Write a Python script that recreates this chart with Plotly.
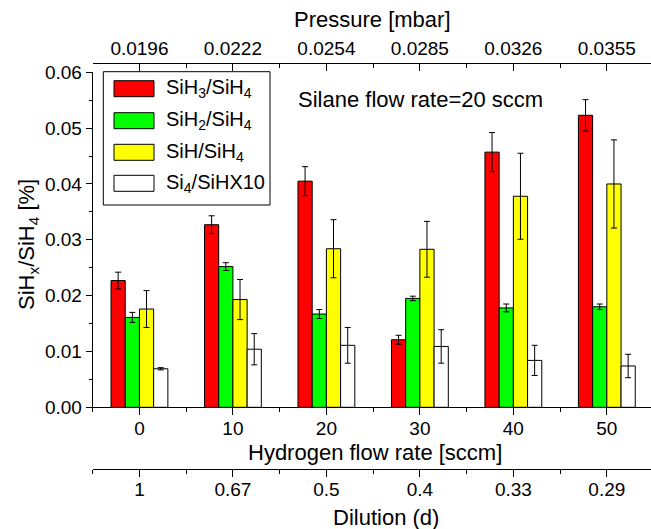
import plotly.graph_objects as go

# ---- data ----
hydrogen = [0, 10, 20, 30, 40, 50]
pressure_labels = ["0.0196", "0.0222", "0.0254", "0.0285", "0.0326", "0.0355"]
dilution_labels = ["1", "0.67", "0.5", "0.4", "0.33", "0.29"]

sih3 = [0.0227, 0.0327, 0.0405, 0.0121, 0.0457, 0.0523]
sih3_err = [0.0015, 0.0016, 0.0026, 0.0008, 0.0035, 0.0028]
sih2 = [0.0161, 0.0252, 0.0167, 0.0195, 0.0178, 0.0180]
sih2_err = [0.0009, 0.0007, 0.0008, 0.0004, 0.0007, 0.0005]
sih = [0.0176, 0.0193, 0.0284, 0.0283, 0.0378, 0.0400]
sih_err = [0.0033, 0.0036, 0.0052, 0.0050, 0.0077, 0.0079]
si4 = [0.0069, 0.0104, 0.0111, 0.0109, 0.0084, 0.0074]
si4_err = [0.0002, 0.0028, 0.0032, 0.0030, 0.0027, 0.0021]

series = [
    ("SiH<sub>3</sub>/SiH<sub>4</sub>", sih3, sih3_err, "#ff0000"),
    ("SiH<sub>2</sub>/SiH<sub>4</sub>", sih2, sih2_err, "#00ff00"),
    ("SiH/SiH<sub>4</sub>", sih, sih_err, "#ffff00"),
    ("Si<sub>4</sub>/SiHX10", si4, si4_err, "#ffffff"),
]

W, H = 651, 529
FONT = "Liberation Sans, Arial, sans-serif"
TICK = 19
TITLE = 22


def px(x):
    return x / W


def py(y):
    return 1 - y / H


fig = go.Figure()
for name, vals, errs, col in series:
    fig.add_trace(go.Bar(
        x=hydrogen, y=vals, name=name,
        marker=dict(color=col, line=dict(color="black", width=1)),
        error_y=dict(type="data", array=errs, visible=True,
                     color="black", thickness=1, width=3),
        showlegend=False,
    ))

# invisible traces to activate the extra x axes
fig.add_trace(go.Scatter(x=hydrogen, y=[None] * 6, xaxis="x2", showlegend=False, hoverinfo="skip"))
fig.add_trace(go.Scatter(x=hydrogen, y=[None] * 6, xaxis="x3", showlegend=False, hoverinfo="skip"))

x0, x1 = 92.7, 651.0
xrange = [-5, -5 + (x1 - x0) / 9.348]
ydom = [py(407.3), py(72.3)]
xdom = [px(x0), 1.0]

minor_vals = [-5, 5, 15, 25, 35, 45, 55]
common_x = dict(range=xrange, domain=xdom, showgrid=False, zeroline=False, automargin=False,
                showline=True, linecolor="black", linewidth=1,
                tickmode="array", tickvals=hydrogen,
                tickcolor="black", ticklen=7, tickwidth=1,
                tickfont=dict(family=FONT, size=TICK, color="black"))

fig.update_layout(
    template="none",
    width=W, height=H,
    margin=dict(l=0, r=0, t=0, b=0, pad=0),
    paper_bgcolor="white", plot_bgcolor="white",
    barmode="group", bargap=0.392, bargroupgap=0,
    font=dict(family=FONT, color="black"),
    xaxis=dict(**common_x, anchor="y", ticks="outside", ticklabelstandoff=-3,
               ticktext=[str(v) for v in hydrogen],
               minor=dict(tickmode="array", tickvals=minor_vals, ticklen=4,
                          tickcolor="black", tickwidth=1, ticks="outside")),
    xaxis2=dict(**common_x, overlaying="x", side="top", anchor="free", position=py(63),
                ticks="inside", ticktext=pressure_labels,
                minor=dict(tickmode="array", tickvals=minor_vals, ticklen=4,
                           tickcolor="black", tickwidth=1, ticks="inside")),
    xaxis3=dict(**common_x, overlaying="x", side="bottom", anchor="free", position=py(469.3),
                ticks="outside", ticklabelstandoff=-4, ticktext=dilution_labels,
                minor=dict(tickmode="array", tickvals=minor_vals, ticklen=4,
                           tickcolor="black", tickwidth=1, ticks="outside")),
    yaxis=dict(range=[0, 0.06], domain=ydom, showgrid=False, zeroline=False, automargin=False,
               showline=True, linecolor="black", linewidth=1,
               tickmode="linear", tick0=0, dtick=0.01, tickformat=".2f",
               ticks="outside", ticklen=6, tickcolor="black",
               tickfont=dict(family=FONT, size=TICK, color="black"),
               minor=dict(dtick=0.005, ticklen=3, tickcolor="black", ticks="outside")),
)

annos = [
    dict(x=px(372), y=py(19), text="Pressure [mbar]", size=TITLE),
    dict(x=px(375), y=py(452), text="Hydrogen flow rate [sccm]", size=TITLE),
    dict(x=px(386), y=py(517), text="Dilution (d)", size=TITLE),
    dict(x=px(420), y=py(99), text="Silane flow rate=20 sccm", size=TITLE),
]
for a in annos:
    fig.add_annotation(x=a["x"], y=a["y"], xref="paper", yref="paper", text=a["text"],
                       showarrow=False, font=dict(family=FONT, size=a["size"], color="black"),
                       xanchor="center", yanchor="middle")

fig.add_annotation(x=px(28), y=py(245), xref="paper", yref="paper",
                   text="SiH<sub>x</sub>/SiH<sub>4</sub> [%]", textangle=-90, showarrow=False,
                   font=dict(family=FONT, size=TITLE, color="black"),
                   xanchor="center", yanchor="middle")

# legend box drawn manually
fig.add_shape(type="rect", xref="paper", yref="paper",
              x0=px(103.3), x1=px(270), y0=py(205), y1=py(71.7),
              line=dict(color="black", width=1), fillcolor="white", layer="above")
legend_y = [88.7, 120.7, 152.3, 183.3]
for (name, _, _, col), ly in zip(series, legend_y):
    fig.add_shape(type="rect", xref="paper", yref="paper",
                  x0=px(114), x1=px(154), y0=py(ly + 8), y1=py(ly - 8),
                  line=dict(color="black", width=1), fillcolor=col, layer="above")
    fig.add_annotation(x=px(164), y=py(ly), xref="paper", yref="paper", text=name,
                       showarrow=False, xanchor="left", yanchor="middle",
                       font=dict(family=FONT, size=20, color="black"))

fig.write_html("out.html", config={"displayModeBar": False},
               post_script="document.body.style.margin='0';document.body.style.overflow='hidden';")
